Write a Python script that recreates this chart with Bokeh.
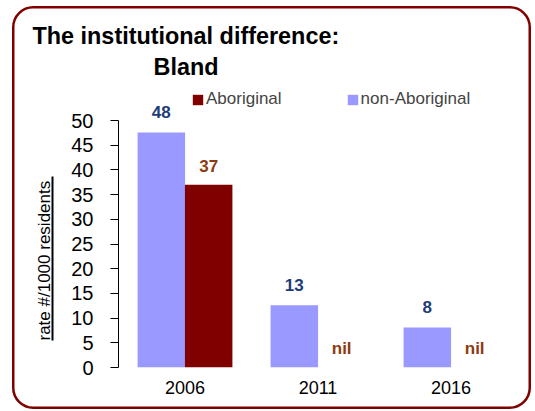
from bokeh.plotting import figure
from bokeh.models import (FactorRange, Range1d, ColumnDataSource, Legend, LegendItem,
                          Title, LinearAxis, FixedTicker)
from bokeh.transform import dodge
from bokeh.core.properties import value
from bokeh.embed import file_html
from bokeh.resources import INLINE

# ---- data ----
years = ["2006", "2011", "2016"]
aboriginal = [37.0, 0.0, 0.0]
non_aboriginal = [47.6, 12.6, 8.1]
aboriginal_labels = ["37", "nil", "nil"]
non_aboriginal_labels = ["48", "13", "8"]
y_ticks = [0, 5, 10, 15, 20, 25, 30, 35, 40, 45, 50]

FONT = "Liberation Sans"

src = ColumnDataSource(dict(
    year=years,
    ab=aboriginal,
    nonab=non_aboriginal,
    ab_lab=aboriginal_labels,
    nonab_lab=non_aboriginal_labels,
))

p = figure(
    width=535, height=411,
    x_range=FactorRange(*years),
    y_range=Range1d(0, 57.1),
    title=None,
    output_backend="svg", toolbar_location=None,
    min_border_left=118, min_border_right=18,
    min_border_top=85, min_border_bottom=44,
)
p.outline_line_color = None
p.xgrid.grid_line_color = None
p.ygrid.grid_line_color = None
p.background_fill_alpha = 0
p.border_fill_alpha = 0

# rounded maroon frame around the whole chart (CSS background of the plot element)
frame_svg = ("data:image/svg+xml;utf8,<svg xmlns='http://www.w3.org/2000/svg' "
             "width='535' height='411'><rect x='13.25' y='7.25' width='516.5' "
             "height='400.5' rx='20' ry='20' fill='none' stroke='%23800000' "
             "stroke-width='2.5'/></svg>")
p.styles = {"background-image": f'url("{frame_svg}")',
            "background-repeat": "no-repeat",
            "background-color": "white"}

BW = 0.357
OFF = 0.178

r_non = p.vbar(x=dodge("year", -OFF, range=p.x_range), top="nonab", width=BW,
               source=src, fill_color="#9999FF", line_color=None)
r_ab = p.vbar(x=dodge("year", OFF, range=p.x_range), top="ab", width=BW,
              source=src, fill_color="#800000", line_color=None)

p.text(x=dodge("year", -OFF, range=p.x_range), y="nonab", text="nonab_lab", source=src,
       text_align="center", text_baseline="alphabetic", y_offset=-20,
       text_font=value(FONT), text_font_size="17px", text_font_style="bold",
       text_color="#1F3C78")
p.text(x=dodge("year", OFF, range=p.x_range), y="ab", text="ab_lab", source=src,
       text_align="center", text_baseline="alphabetic", y_offset=-19,
       text_font=value(FONT), text_font_size="17px", text_font_style="bold",
       text_color="#8C3A10")

# primary y axis
yax = p.yaxis[0]
yax.ticker = FixedTicker(ticks=y_ticks)
yax.bounds = (0, 50)
yax.axis_line_color = "black"
yax.major_tick_line_color = "black"
yax.major_tick_out = 8
yax.major_tick_in = 0
yax.minor_tick_line_color = None
yax.minor_tick_out = 0
yax.major_label_standoff = 17
yax.major_label_text_font = FONT
yax.major_label_text_font_size = "20px"
yax.major_label_text_color = "black"

# blank spacer between tick labels and the underlined axis title
spacer = LinearAxis(ticker=FixedTicker(ticks=[0]), axis_line_color=None,
                    major_tick_out=16, major_tick_in=0, minor_tick_out=0,
                    major_tick_line_color="white", minor_tick_line_color=None,
                    major_label_standoff=0, major_label_overrides={0: ""})
p.add_layout(spacer, "left")

# underline of the axis title (an axis line limited by bounds)
underline_axis = LinearAxis(ticker=FixedTicker(ticks=[]), bounds=(5.5, 38.7),
                            axis_line_color="black", axis_line_width=2,
                            major_tick_out=0, major_tick_in=0, minor_tick_out=0,
                            major_tick_line_color=None, minor_tick_line_color=None,
                            major_label_standoff=0)
p.add_layout(underline_axis, "left")

# axis title
p.add_layout(Title(text="rate #/1000 residents", align="left", offset=27,
                   vertical_align="bottom", standoff=-3, text_font=FONT,
                   text_font_size="17px", text_font_style="normal",
                   text_color="black"), "left")

xax = p.xaxis[0]
xax.axis_line_color = None
xax.major_tick_line_color = None
xax.minor_tick_line_color = None
xax.major_tick_out = 0
xax.major_label_standoff = 13
xax.major_label_text_font = FONT
xax.major_label_text_font_size = "18px"
xax.major_label_text_color = "black"

# legend
legend = Legend(items=[LegendItem(label="Aboriginal", renderers=[r_ab]),
                       LegendItem(label="non-Aboriginal", renderers=[r_non])],
                orientation="horizontal", location=(73, 258),
                glyph_width=13, glyph_height=13, label_standoff=2, spacing=64,
                padding=0, margin=0, border_line_color=None,
                background_fill_alpha=0, label_text_font=FONT,
                label_text_font_size="17px", label_height=18)
p.add_layout(legend, "center")

# two-line title
p.add_layout(Title(text="Bland", align="left", offset=35, standoff=12,
                   vertical_align="bottom", text_font=FONT, text_font_size="23.4px",
                   text_font_style="bold", text_color="black"), "above")
p.add_layout(Title(text="The institutional difference:", align="left", offset=-86,
                   standoff=-6, vertical_align="bottom", text_font=FONT,
                   text_font_size="23.4px", text_font_style="bold",
                   text_color="black"), "above")

open("out.html", "w").write(file_html(p, INLINE))
